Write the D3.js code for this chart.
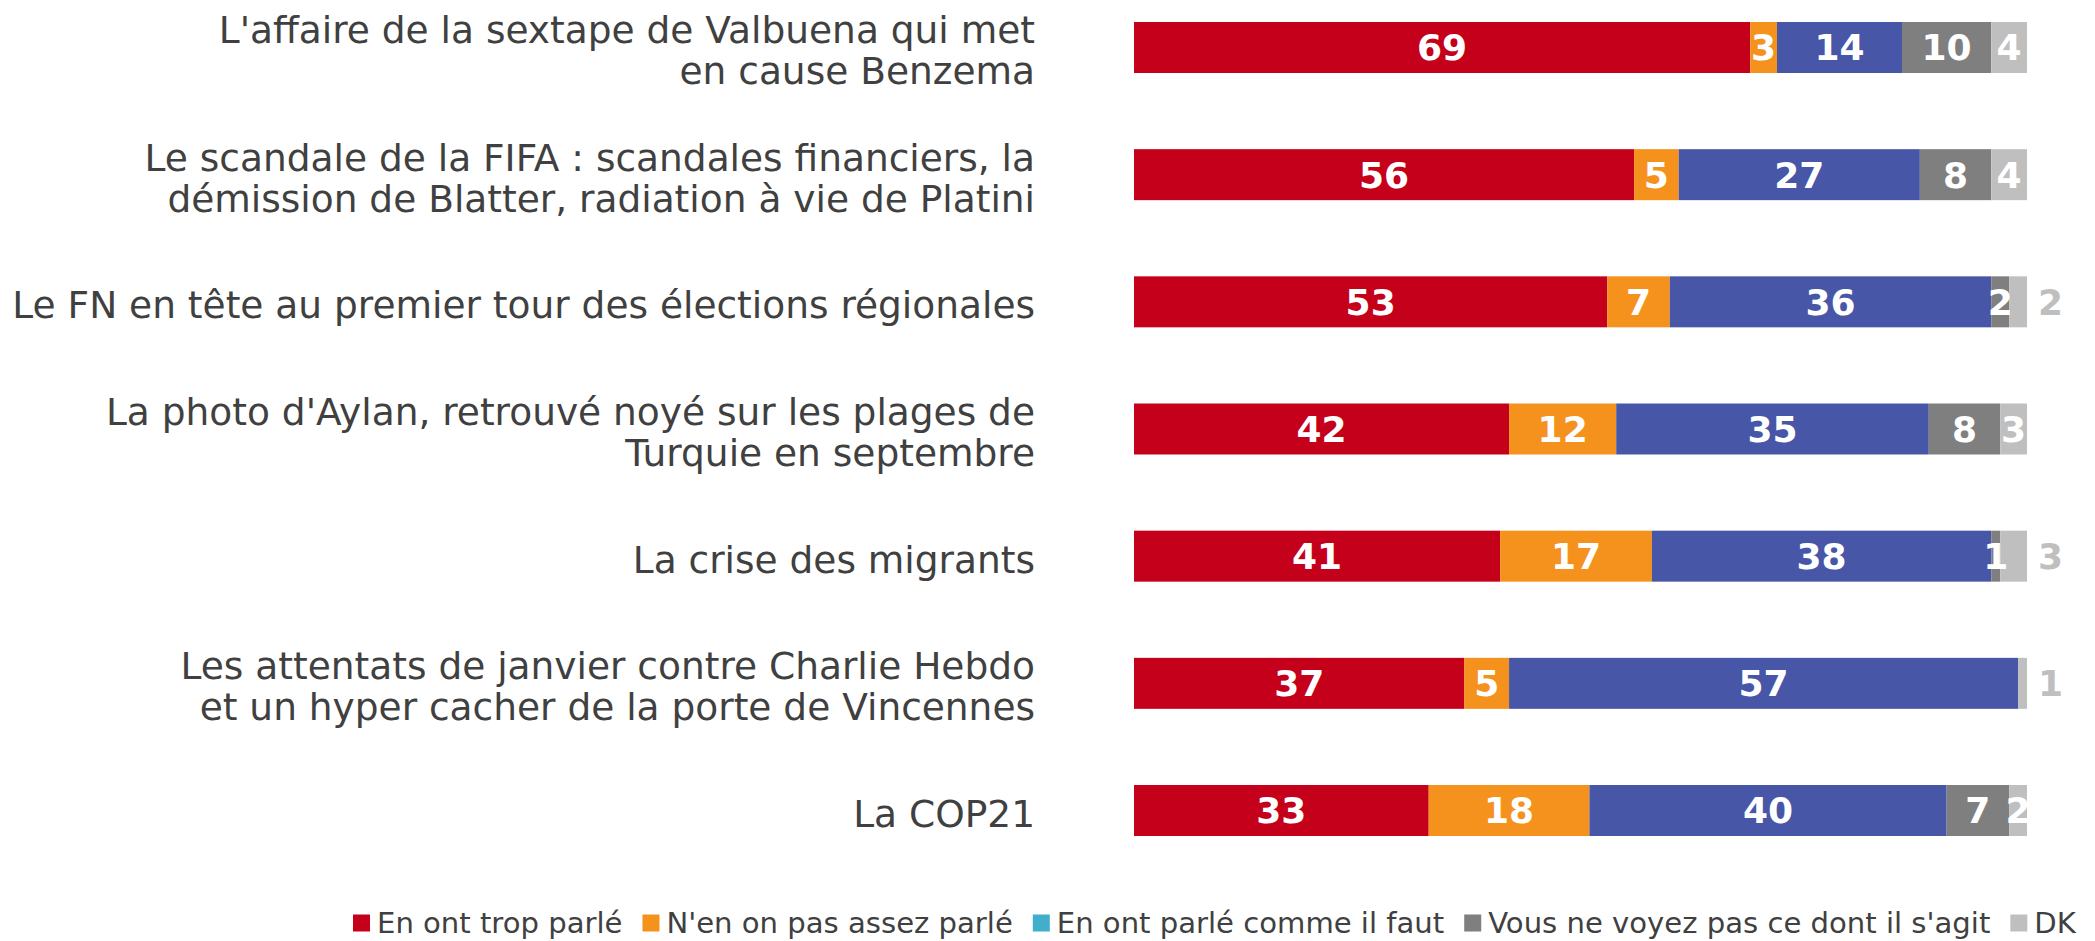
<!DOCTYPE html>
<html>
<head>
<meta charset="utf-8">
<script src="https://cdn.jsdelivr.net/npm/d3@7"></script>
<style>
  html, body { margin: 0; padding: 0; background: #ffffff; }
  svg { display: block; }
  text { font-family: "DejaVu Sans", Verdana, sans-serif; }
</style>
</head>
<body>
<svg id="chart" width="2095" height="941"></svg>
<script>
// ---- Data ----
const categories = [
  "L'affaire de la sextape de Valbuena qui met\nen cause Benzema",
  "Le scandale de la FIFA : scandales financiers, la\ndémission de Blatter, radiation à vie de Platini",
  "Le FN en tête au premier tour des élections régionales",
  "La photo d'Aylan, retrouvé noyé sur les plages de\nTurquie en septembre",
  "La crise des migrants",
  "Les attentats de janvier contre Charlie Hebdo\net un hyper cacher de la porte de Vincennes",
  "La COP21"
];
const seriesNames = [
  "En ont trop parlé",
  "N'en on pas assez parlé",
  "En ont parlé comme il faut",
  "Vous ne voyez pas ce dont il s'agit",
  "DK"
];
const tropParle   = [69, 56, 53, 42, 41, 37, 33];
const pasAssez    = [3, 5, 7, 12, 17, 5, 18];
const commeIlFaut = [14, 27, 36, 35, 38, 57, 40];
const neVoyezPas  = [10, 8, 2, 8, 1, 0, 7];
const dk          = [4, 4, 2, 3, 3, 1, 2];
const dkLabelOutside = [false, false, true, false, true, true, false];

// ---- Styles ----
const barColors    = ["#C5001A", "#F5921E", "#4756A6", "#7F7F7F", "#BFBFBF"];
const legendColors = ["#C5001A", "#F5921E", "#41AECB", "#7F7F7F", "#BFBFBF"];
const textColor = "#404040";

const svg = d3.select("#chart");

const keys = ["s0", "s1", "s2", "s3", "s4"];
const seriesArrays = [tropParle, pasAssez, commeIlFaut, neVoyezPas, dk];
const table = categories.map((c, i) => {
  const row = { cat: c, idx: i };
  keys.forEach((k, j) => row[k] = seriesArrays[j][i]);
  return row;
});

const x = d3.scaleLinear().domain([0, 100]).range([1134, 2027]);
const y = d3.scaleBand().domain(categories).range([22, 836]).paddingInner(0.599).paddingOuter(0);

const stacked = d3.stack().keys(keys)(table);

const g = svg.append("g");

const layers = g.selectAll("g.layer").data(stacked).join("g")
  .attr("class", "layer")
  .attr("fill", (d, i) => barColors[i]);

layers.selectAll("rect").data(d => d).join("rect")
  .attr("x", d => x(d[0]))
  .attr("y", d => y(d.data.cat))
  .attr("width", d => Math.max(0, x(d[1]) - x(d[0])))
  .attr("height", y.bandwidth());

// value labels
stacked.forEach((layer, si) => {
  layer.forEach(d => {
    const v = d.data[keys[si]];
    if (!v) return;
    const outside = si === 4 && dkLabelOutside[d.data.idx];
    const cy = y(d.data.cat) + y.bandwidth() / 2;
    g.append("text")
      .attr("x", outside ? x(100) + 11 : (x(d[0]) + x(d[1])) / 2)
      .attr("y", cy)
      .attr("dy", "0.36em")
      .attr("text-anchor", outside ? "start" : "middle")
      .attr("font-weight", "bold")
      .attr("font-size", 36)
      .attr("fill", outside ? "#BFBFBF" : "#ffffff")
      .text(v);
  });
});

// category labels
const lineH = 41;
categories.forEach(c => {
  const lines = c.split("\n");
  const cy = y(c) + y.bandwidth() / 2 + 3;
  const t = svg.append("text")
    .attr("text-anchor", "end")
    .attr("font-size", 37.5)
    .attr("fill", textColor);
  lines.forEach((ln, k) => {
    t.append("tspan")
      .attr("x", 1035)
      .attr("y", cy + (k - (lines.length - 1) / 2) * lineH)
      .attr("dy", "0.36em")
      .text(ln);
  });
});

// legend
const legend = svg.append("g");
let lx = 353;
const ly = 923;
seriesNames.forEach((name, i) => {
  legend.append("rect")
    .attr("x", lx).attr("y", ly - 8.5)
    .attr("width", 17).attr("height", 17)
    .attr("fill", legendColors[i]);
  const t = legend.append("text")
    .attr("x", lx + 24)
    .attr("y", ly)
    .attr("dy", "0.36em")
    .attr("font-size", 29.1)
    .attr("fill", textColor)
    .text(name);
  const w = t.node().getComputedTextLength();
  lx = lx + 24 + w + 20;
});
</script>
</body>
</html>
